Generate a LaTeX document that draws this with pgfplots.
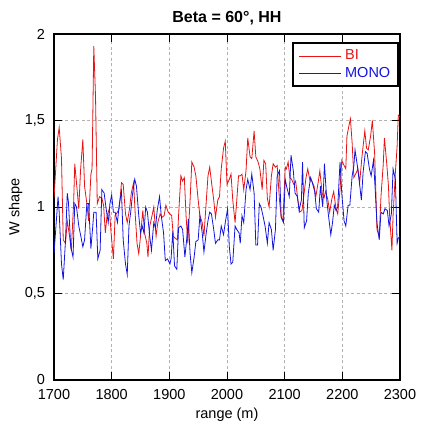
\documentclass[border=0pt]{standalone}
\usepackage{fontspec}
\setmainfont{Liberation Sans}
\usepackage{pgfplots}
\pgfplotsset{compat=1.18}
\definecolor{bired}{RGB}{230,20,20}
\definecolor{monoblue}{RGB}{20,20,225}
\begin{document}
\begin{tikzpicture}
\path[use as bounding box] (-54pt,-50pt) rectangle (368pt,380pt);
\begin{axis}[
  width=346pt, height=346pt, scale only axis,
  anchor=south west, at={(0pt,0pt)},
  xmin=1700, xmax=2300, ymin=0, ymax=2,
  xtick={1700,1800,1900,2000,2100,2200,2300},
  ytick={0,0.5,1,1.5,2},
  tick align=inside, xtick pos=both, ytick pos=both,
  major tick length=8pt,
  tick style={black, line width=0.9pt},
  grid=major,
  major grid style={gray!60, dash pattern=on 3pt off 2.5pt, line width=0.6pt},
  axis line style={line width=1.3pt},
  ticklabel style={font=\fontsize{14.5}{17}\selectfont, inner sep=1pt},
  xticklabel style={yshift=-8pt},
  yticklabel style={xshift=-7.8pt},
  /pgf/number format/assume math mode=true,
  /pgf/number format/use comma,
  /pgf/number format/1000 sep={},
  title={Beta = 60°, HH},
  title style={font=\fontsize{16}{19}\selectfont\bfseries, at={(axis description cs:0.5,1.017)}, anchor=base},
  xlabel={range (m)},
  xlabel style={font=\fontsize{14.5}{17}\selectfont, at={(axis description cs:0.5,-0.11)}, anchor=base},
  ylabel={W shape},
  ylabel style={font=\fontsize{14.5}{17}\selectfont, at={(axis description cs:-0.1,0.5)}, anchor=base},
  legend style={at={(rel axis cs:0.997,0.977)}, anchor=north east, draw=black, /tikz/line width=2.4pt,
    font=\fontsize{14.5}{17}\selectfont, inner xsep=5.5pt, inner ysep=4pt, column sep=2pt,
    nodes={inner sep=2pt, text height=10.5pt, text depth=3pt}},
  legend cell align=left,
  legend image code/.code={\draw[#1, line width=0.8pt] (0pt,0pt) -- (42pt,0pt);},
]
\addplot[bired, line width=0.8pt] coordinates {
(1700,1.05)(1706,1.39)(1709,1.46)(1713,1.28)(1716,0.81)(1720,0.79)(1723,0.92)(1727,0.83)(1730,0.75)(1734,1.02)(1736,1.25)(1739,1.14)(1743,0.99)(1746,1.21)(1750,1.39)(1753,1.12)(1757,1.02)(1760,0.92)(1764,1.19)(1766,1.22)(1769,1.93)(1772,1.64)(1775,1.02)(1779,1.06)(1783,1.05)(1786,1.01)(1789,0.85)(1792,0.95)(1796,0.99)(1799,0.85)(1803,0.70)(1806,0.95)(1810,0.97)(1813,0.99)(1817,1.14)(1820,1.13)(1824,0.96)(1827,0.91)(1831,0.99)(1834,1.08)(1838,1.14)(1841,0.95)(1844,0.79)(1847,0.73)(1850,0.83)(1854,0.98)(1857,0.85)(1861,0.79)(1863,0.71)(1866,0.89)(1870,0.95)(1873,1.00)(1877,0.83)(1880,0.91)(1884,0.96)(1887,0.94)(1891,0.95)(1894,1.01)(1898,0.97)(1901,0.96)(1904,0.95)(1907,0.83)(1910,0.82)(1914,0.81)(1916,0.95)(1920,1.18)(1923,1.15)(1926,1.17)(1929,0.95)(1932,0.79)(1936,1.04)(1939,1.26)(1943,1.23)(1946,1.18)(1950,1.04)(1953,0.95)(1957,0.91)(1960,0.83)(1963,0.98)(1967,1.18)(1970,1.23)(1974,1.12)(1977,1.04)(1980,0.94)(1984,1.04)(1987,1.06)(1990,1.22)(1994,1.34)(1997,1.38)(2000,1.13)(2004,1.16)(2007,1.19)(2010,1.04)(2014,0.91)(2017,1.04)(2020,1.18)(2023,1.18)(2026,1.19)(2029,1.10)(2033,1.21)(2036,1.40)(2040,1.29)(2043,1.28)(2047,1.44)(2050,1.29)(2054,1.26)(2057,1.22)(2061,1.10)(2064,1.27)(2067,1.25)(2070,1.05)(2073,1.00)(2077,1.18)(2080,1.25)(2084,1.23)(2087,1.24)(2091,1.04)(2094,0.94)(2097,0.92)(2101,1.23)(2103,1.22)(2106,1.26)(2109,1.17)(2112,1.16)(2116,1.13)(2119,1.15)(2123,1.04)(2126,0.97)(2130,0.98)(2133,1.06)(2137,1.17)(2140,1.22)(2144,1.15)(2147,1.15)(2151,1.12)(2154,1.06)(2158,1.14)(2161,1.21)(2165,1.08)(2168,1.05)(2171,1.09)(2175,1.04)(2178,0.97)(2182,1.05)(2185,1.09)(2189,0.99)(2192,0.96)(2196,1.10)(2199,1.27)(2203,1.24)(2206,1.22)(2208,1.41)(2212,1.48)(2214,1.51)(2217,1.37)(2220,1.17)(2223,1.19)(2227,1.22)(2230,1.14)(2234,1.29)(2239,1.44)(2242,1.34)(2245,1.33)(2249,1.41)(2252,1.50)(2256,1.31)(2258,1.10)(2260,0.87)(2264,0.83)(2267,1.06)(2271,1.25)(2273,1.40)(2277,1.25)(2280,1.12)(2282,0.95)(2286,0.75)(2288,0.95)(2292,1.20)(2295,1.35)(2297,1.53)(2300,1.52)
};
\addlegendentry{\textcolor{bired}{BI}}
\addplot[monoblue, line width=0.8pt] coordinates {
(1700,0.73)(1703,0.87)(1707,1.06)(1709,0.97)(1713,0.67)(1716,0.58)(1720,0.81)(1723,1.08)(1725,1.03)(1729,0.77)(1733,0.71)(1736,1.02)(1739,1.00)(1743,0.89)(1746,0.84)(1750,0.77)(1753,0.81)(1757,1.02)(1760,1.02)(1764,0.76)(1767,0.88)(1769,0.97)(1773,0.97)(1776,0.70)(1780,0.75)(1783,1.10)(1787,1.08)(1790,1.00)(1794,0.91)(1797,1.02)(1800,1.07)(1803,0.97)(1806,0.97)(1810,0.91)(1813,1.01)(1817,1.09)(1820,0.81)(1824,0.67)(1827,0.61)(1830,0.89)(1833,0.97)(1836,1.07)(1840,1.16)(1843,1.12)(1847,0.95)(1850,0.85)(1853,0.89)(1856,0.85)(1859,1.00)(1862,0.97)(1866,0.83)(1869,0.75)(1873,0.91)(1876,0.88)(1879,0.98)(1883,1.06)(1886,0.95)(1890,0.85)(1893,0.69)(1897,0.70)(1901,0.67)(1903,0.70)(1906,0.86)(1909,0.66)(1913,0.64)(1916,0.88)(1920,0.89)(1923,0.87)(1927,0.71)(1930,0.81)(1933,0.93)(1936,0.73)(1939,0.62)(1943,0.71)(1946,0.80)(1950,0.81)(1953,0.95)(1957,0.85)(1960,0.74)(1964,0.85)(1967,0.92)(1970,0.97)(1973,0.96)(1977,0.87)(1980,0.79)(1984,0.81)(1987,0.81)(1990,0.89)(1994,0.84)(1997,0.91)(2001,0.99)(2004,0.77)(2007,0.67)(2010,0.68)(2014,0.89)(2017,0.87)(2021,0.85)(2023,0.79)(2026,0.95)(2029,0.91)(2033,1.10)(2036,1.16)(2040,1.10)(2043,1.19)(2047,1.08)(2050,0.78)(2053,0.78)(2056,1.02)(2059,1.00)(2063,0.94)(2066,0.89)(2070,0.79)(2073,0.91)(2077,0.87)(2080,0.75)(2084,0.87)(2087,1.18)(2091,1.21)(2094,0.94)(2098,0.91)(2101,1.16)(2104,1.11)(2108,1.06)(2111,1.30)(2115,1.21)(2118,1.08)(2122,1.06)(2125,0.98)(2129,1.04)(2131,1.26)(2134,0.88)(2138,0.92)(2141,1.08)(2145,1.17)(2148,1.14)(2152,1.09)(2155,0.99)(2159,0.97)(2162,1.12)(2166,1.00)(2169,1.25)(2173,1.04)(2176,0.95)(2180,0.84)(2183,0.91)(2186,1.01)(2189,0.98)(2192,1.00)(2196,1.26)(2199,1.08)(2203,0.92)(2206,0.89)(2210,1.01)(2213,1.01)(2217,1.18)(2220,1.24)(2222,1.33)(2226,1.24)(2229,1.16)(2233,1.04)(2236,1.20)(2240,1.32)(2243,1.31)(2247,1.22)(2250,1.18)(2254,1.27)(2257,1.10)(2260,0.91)(2264,0.81)(2267,0.97)(2271,0.96)(2274,0.99)(2278,0.98)(2281,0.89)(2285,0.96)(2288,1.22)(2292,1.16)(2295,0.79)(2297,0.82)(2300,0.83)
};
\addlegendentry{\textcolor{monoblue}{MONO}}
\end{axis}
\end{tikzpicture}
\end{document}
